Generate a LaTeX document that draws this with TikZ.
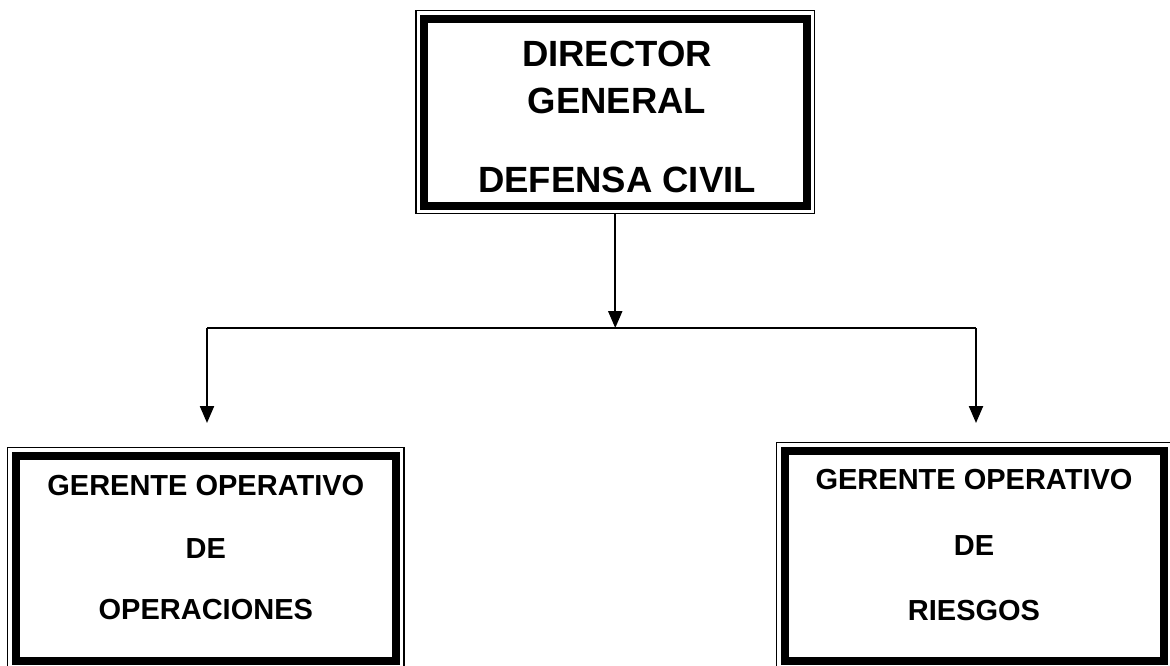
\documentclass[tikz,border=0pt]{standalone}
\usepackage{fontspec}
\setmainfont{Liberation Sans}
\usetikzlibrary{arrows.meta,calc}
\begin{document}
\begin{tikzpicture}[x=1pt,y=-1pt,
  outerbox/.style={draw,line width=1.2pt,inner sep=0pt,outer sep=0pt},
  thickband/.style={line width=8pt},
  bigtxt/.style={font=\fontsize{36.5}{44}\selectfont\bfseries,inner sep=0pt,anchor=base},
  smalltxt/.style={font=\fontsize{29}{35}\selectfont\bfseries,inner sep=0pt,anchor=base},
  conn/.style={line width=2.2pt},
  arr/.style={line width=2.2pt,-{Triangle[length=17pt,width=14pt]}}
]
\useasboundingbox (0,0) rectangle (1170,665);

% boxes (outer thin line)
\node[outerbox,minimum width=398.5pt,minimum height=203pt] (dir) at (615.25,112) {};
\node[outerbox,minimum width=396.5pt,minimum height=221pt] (gop) at (205.75,558) {};
\node[outerbox,minimum width=395pt,minimum height=226pt] (gri) at (974,555.5) {};

% thick inner bands
\draw[thickband] ($(dir.north west)+(8,8)$) rectangle ($(dir.south east)+(-8,-8)$);
\draw[thickband] ($(gop.north west)+(8,8)$) rectangle ($(gop.south east)+(-8,-8)$);
\draw[thickband] ($(gri.north west)+(8,8)$) rectangle ($(gri.south east)+(-8,-8)$);

% texts
\node[bigtxt] (d1) at (617,66) {DIRECTOR};
\node[bigtxt] (d2) at (617,113) {GENERAL};
\node[bigtxt] (d3) at (617,192) {DEFENSA CIVIL};

\node[smalltxt] (o1) at (205.8,495) {GERENTE OPERATIVO};
\node[smalltxt] (o2) at (205.8,558) {DE};
\node[smalltxt] (o3) at (205.8,619) {OPERACIONES};

\node[smalltxt] (r1) at (974,489) {GERENTE OPERATIVO};
\node[smalltxt] (r2) at (974,555) {DE};
\node[smalltxt] (r3) at (974,620) {RIESGOS};

% connectors
\coordinate (jl) at (207,328);
\coordinate (jr) at (976,328);
\coordinate (jc) at (dir.south |- jl);
\coordinate (el) at (207,423);
\coordinate (er) at (976,423);

\draw[arr] (dir.south) -- (jc);
\draw[conn] (jl) -- (jr);
\draw[arr] (jl) -- (el);
\draw[arr] (jr) -- (er);
\end{tikzpicture}
\end{document}
